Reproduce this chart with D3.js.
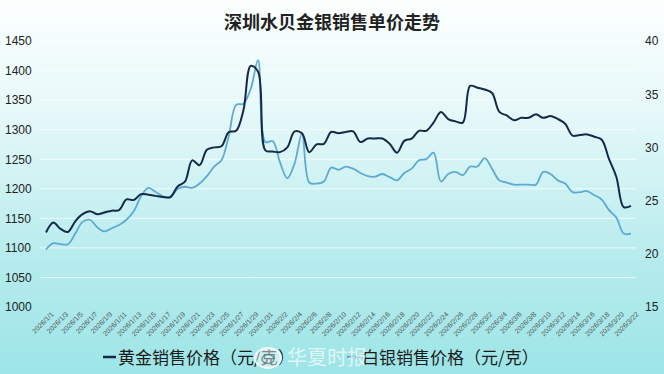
<!DOCTYPE html>
<html>
<head>
<meta charset="utf-8">
<script src="https://cdn.jsdelivr.net/npm/d3@7"></script>
<style>
  html, body { margin: 0; padding: 0; background: #fff; }
  svg { display: block; font-family: "Liberation Sans", Arial, "Noto Sans CJK SC", sans-serif; }
</style>
</head>
<body>
<svg id="chart" width="664" height="374"></svg>
<script>
const width = 664;
const height = 374;

// daily categories 2026/1/1 .. 2026/3/22
const dates = d3.timeDay.range(new Date(2026, 0, 1), new Date(2026, 2, 23));

// 黄金销售价格 (元/克), left axis
const goldPrice = [
  1126, 1143, 1132, 1127, 1145, 1157, 1162, 1157, 1160, 1163,
  1164, 1182, 1181, 1191, 1190, 1188, 1186, 1186, 1204, 1212,
  1248, 1240, 1266, 1270, 1272, 1296, 1298, 1333, 1408, 1398,
  1265, 1263, 1262, 1270, 1297, 1294, 1262, 1275, 1276, 1296,
  1294, 1296, 1297, 1279, 1285, 1285, 1285, 1276, 1261, 1281,
  1285, 1298, 1298, 1312, 1330, 1318, 1314, 1312, 1374, 1371,
  1368, 1362, 1330, 1324, 1316, 1320, 1320, 1326, 1320, 1323,
  1318, 1310, 1290, 1291, 1292, 1288, 1283, 1250, 1220, 1169,
  1171
];

// 白银销售价格 (元/克), right axis
const silverPrice = [
  20.4, 21.0, 20.9, 20.9, 21.9, 23.0, 23.2, 22.5, 22.1, 22.4,
  22.7, 23.2, 24.0, 25.4, 26.2, 25.8, 25.4, 25.3, 26.1, 26.3,
  26.2, 26.6, 27.3, 28.2, 28.8, 31.1, 34.0, 34.1, 35.5, 38.2,
  30.5, 30.6, 28.6, 27.1, 28.5, 31.3, 26.7, 26.6, 26.8, 28.1,
  27.9, 28.2, 28.0, 27.6, 27.3, 27.25, 27.5, 27.2, 26.9, 27.6,
  28.0, 28.8, 28.9, 29.5, 26.8, 27.5, 27.7, 27.4, 28.2, 28.2,
  29.0, 28.0, 26.9, 26.7, 26.5, 26.5, 26.5, 26.5, 27.7, 27.5,
  26.9, 26.6, 25.8, 25.8, 25.9, 25.5, 25.1, 24.1, 23.4, 21.9,
  21.9
];

const leftTicks = [1000, 1050, 1100, 1150, 1200, 1250, 1300, 1350, 1400, 1450];
const rightTicks = [15, 20, 25, 30, 35, 40];
const dateTicks = dates.filter((d, i) => i % 2 === 0);

const title = '深圳水贝金银销售单价走势';
const legendNames = ['黄金销售价格（元/克）', '白银销售价格（元/克）'];
const watermark = '华夏时报';

const goldColor = '#142a48';
const silverColor = '#5eaad3';

const svg = d3.select('#chart');

// background gradient
const defs = svg.append('defs');
const grad = defs.append('linearGradient')
    .attr('id', 'bg')
    .attr('x1', 0).attr('y1', 0).attr('x2', 0).attr('y2', 1);
grad.append('stop').attr('offset', '0%').attr('stop-color', '#fdffff');
grad.append('stop').attr('offset', '30%').attr('stop-color', '#e6f8f9');
grad.append('stop').attr('offset', '70%').attr('stop-color', '#b6ebed');
grad.append('stop').attr('offset', '100%').attr('stop-color', '#9de5e7');
svg.append('rect')
    .attr('width', width).attr('height', height)
    .attr('fill', 'url(#bg)');

const x = d3.scaleTime()
    .domain([dates[0], dates[dates.length - 1]])
    .range([46, 631]);
const yL = d3.scaleLinear().domain([1000, 1450]).range([307, 41]);
const yR = d3.scaleLinear().domain([15, 40]).range([307, 41]);

// grid lines
svg.append('g')
    .attr('class', 'grid')
  .selectAll('line')
  .data(leftTicks.slice(1))
  .join('line')
    .attr('x1', 40).attr('x2', 636)
    .attr('y1', d => yL(d)).attr('y2', d => yL(d))
    .attr('stroke', '#ffffff')
    .attr('stroke-opacity', 0.7)
    .attr('stroke-width', 1);

// left axis
const leftAxis = svg.append('g')
    .call(d3.axisLeft(yL).tickValues(leftTicks).tickFormat(d3.format('d')).tickSize(0));
leftAxis.select('.domain').remove();
leftAxis.selectAll('text')
    .attr('x', 5)
    .attr('text-anchor', 'start')
    .attr('font-size', 12)
    .attr('font-family', '"Liberation Sans", Arial, sans-serif')
    .attr('fill', '#222');

// right axis
const rightAxis = svg.append('g')
    .call(d3.axisRight(yR).tickValues(rightTicks).tickFormat(d3.format('d')).tickSize(0));
rightAxis.select('.domain').remove();
rightAxis.selectAll('text')
    .attr('x', 645)
    .attr('text-anchor', 'start')
    .attr('font-size', 12)
    .attr('font-family', '"Liberation Sans", Arial, sans-serif')
    .attr('fill', '#222');

// x axis, rotated date labels
const xAxis = svg.append('g')
    .attr('transform', 'translate(0,307)')
    .call(d3.axisBottom(x)
      .tickValues(dateTicks)
      .tickFormat(d3.timeFormat('%Y/%-m/%-d'))
      .tickSize(0));
xAxis.select('.domain').remove();
xAxis.selectAll('text')
    .attr('x', 0).attr('y', 0).attr('dy', '0.35em')
    .attr('text-anchor', 'end')
    .attr('transform', 'translate(6,6) rotate(-45)')
    .attr('font-size', 7)
    .attr('font-family', '"Liberation Sans", Arial, sans-serif')
    .attr('fill', '#555');

// lines
const silverLine = d3.line()
    .x((d, i) => x(dates[i]))
    .y(d => yR(d))
    .curve(d3.curveCatmullRom.alpha(0.5));
const goldLine = d3.line()
    .x((d, i) => x(dates[i]))
    .y(d => yL(d))
    .curve(d3.curveCatmullRom.alpha(0.5));

svg.append('path')
    .datum(silverPrice)
    .attr('d', silverLine)
    .attr('fill', 'none')
    .attr('stroke', silverColor)
    .attr('stroke-width', 1.8)
    .attr('stroke-linejoin', 'round');
svg.append('path')
    .datum(goldPrice)
    .attr('d', goldLine)
    .attr('fill', 'none')
    .attr('stroke', goldColor)
    .attr('stroke-width', 2)
    .attr('stroke-linejoin', 'round');

// title
svg.append('text')
    .attr('x', 332).attr('y', 29)
    .attr('text-anchor', 'middle')
    .attr('font-family', '"Noto Sans CJK SC", sans-serif')
    .attr('font-weight', 'bold')
    .attr('font-size', 18)
    .attr('fill', '#222')
    .text(title);

// legend
const legend = svg.append('g')
    .attr('font-family', '"Noto Sans CJK SC", sans-serif')
    .attr('font-size', 17)
    .attr('fill', '#1c1c1c');
const legendItems = [
  {name: legendNames[0], color: goldColor, x: 103},
  {name: legendNames[1], color: silverColor, x: 347}
];
legendItems.forEach(item => {
  legend.append('line')
      .attr('x1', item.x).attr('x2', item.x + 13)
      .attr('y1', 357).attr('y2', 357)
      .attr('stroke', item.color)
      .attr('stroke-width', 2.5);
  legend.append('text')
      .attr('x', item.x + 15).attr('y', 364)
      .text(item.name);
});

// watermark
const wm = svg.append('g').attr('opacity', 0.85);
wm.append('ellipse')
    .attr('cx', 268).attr('cy', 358).attr('rx', 13).attr('ry', 10)
    .attr('fill', '#ffffff').attr('fill-opacity', 0.55)
    .attr('stroke', '#ffffff').attr('stroke-width', 2);
wm.append('ellipse')
    .attr('cx', 268).attr('cy', 359).attr('rx', 6).attr('ry', 4.5)
    .attr('fill', 'none')
    .attr('stroke', '#6a8f90').attr('stroke-width', 1.5);
wm.append('text')
    .attr('x', 287).attr('y', 365)
    .attr('font-family', '"Noto Sans CJK SC", sans-serif')
    .attr('font-size', 20)
    .attr('fill', '#ffffff')
    .attr('fill-opacity', 0.8)
    .text(watermark);
</script>
</body>
</html>
